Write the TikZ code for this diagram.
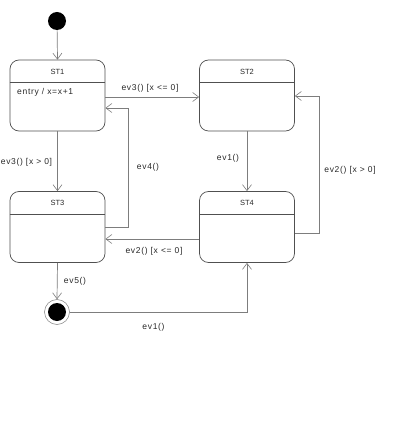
\documentclass[tikz,border=0pt]{standalone}
\usepackage{fontspec}
\setmainfont{Liberation Sans}
\usetikzlibrary{arrows.meta,calc}
\definecolor{lin}{RGB}{125,125,125}
\definecolor{brd}{RGB}{80,80,80}
\definecolor{txt}{RGB}{40,40,40}
\newfontfamily\lblfont[LetterSpace=8]{Liberation Sans}
\tikzset{
  x=1pt,y=1pt,
  statebox/.style={draw=brd,line width=0.7pt,rounded corners=9pt,minimum width=95pt,minimum height=71pt,inner sep=0pt},
  conn/.style={draw=lin,line width=0.7pt,-{Straight Barb[length=6pt,width=9pt,line width=0.6pt]}},
  stname/.style={font=\fontsize{7.5}{9}\selectfont,text=txt,inner sep=0pt},
  lbl/.style={font=\lblfont\fontsize{8.5}{10}\selectfont,text=txt,inner sep=0pt},
  divl/.style={draw=brd,line width=0.7pt}
}
\begin{document}
\begin{tikzpicture}
\useasboundingbox (0,0) rectangle (401,-438);
% states
\node[statebox] (st1) at (57.5,-95.5) {};
\node[statebox] (st2) at (247,-95.5) {};
\node[statebox] (st3) at (57.5,-227) {};
\node[statebox] (st4) at (247,-227) {};
\draw[divl] ($(st1.north west)+(0,-23)$) -- ($(st1.north east)+(0,-23)$);
\draw[divl] ($(st2.north west)+(0,-23)$) -- ($(st2.north east)+(0,-23)$);
\draw[divl] ($(st3.north west)+(0,-23)$) -- ($(st3.north east)+(0,-23)$);
\draw[divl] ($(st4.north west)+(0,-23)$) -- ($(st4.north east)+(0,-23)$);
\node[stname] (n1) at ($(st1.north)+(0,-12)$) {ST1};
\node[stname] (n2) at ($(st2.north)+(0,-12)$) {ST2};
\node[stname] (n3) at ($(st3.north)+(0,-12)$) {ST3};
\node[stname] (n4) at ($(st4.north)+(0,-12)$) {ST4};
\node[lbl,anchor=west] (entry) at (17,-92) {entry / x=x+1};
% pseudo states
\node[circle,fill=black,minimum size=18pt,inner sep=0pt] (init) at (57,-21) {};
\node[circle,draw=lin,line width=0.5pt,minimum size=25pt,inner sep=0pt] (fin) at (57,-312) {};
\node[circle,fill=black,minimum size=18pt,inner sep=0pt] (finin) at (fin.center) {};
% connectors
\draw[conn] (init) -- (st1.north);
\draw[conn] ($(st1.east)+(0,-1.5)$) -- ($(st2.west)+(0,-1.5)$);
\draw[conn] ($(st3.east)+(0,0)$) -- (128,-227) -- (128,-108) -- ($(st1.east)+(0,-12.5)$);
\draw[conn] (st1.south) -- (st3.north);
\draw[conn] (st2.south) -- (st4.north);
\draw[conn] ($(st4.east)+(0,-6)$) -- (319,-233) -- (319,-96) -- ($(st2.east)+(0,-0.5)$);
\draw[conn] ($(st4.west)+(0,-12)$) -- ($(st3.east)+(0,-12)$);
\draw[conn] (st3.south) -- (fin.north);
\draw[conn] (fin.east) -- (247,-312) -- (st4.south);
% labels
\node[lbl] (l1) at (150,-88) {ev3() [x <= 0]};
\node[lbl] (l2) at (148,-167) {ev4()};
\node[lbl] (l3) at (26.5,-162) {ev3() [x > 0]};
\node[lbl] (l4) at (228,-158) {ev1()};
\node[lbl] (l5) at (350,-170) {ev2() [x > 0]};
\node[lbl] (l6) at (154,-251) {ev2() [x <= 0]};
\node[lbl] (l7) at (75,-281) {ev5()};
\node[lbl] (l8) at (153.5,-327) {ev1()};
\end{tikzpicture}
\end{document}
